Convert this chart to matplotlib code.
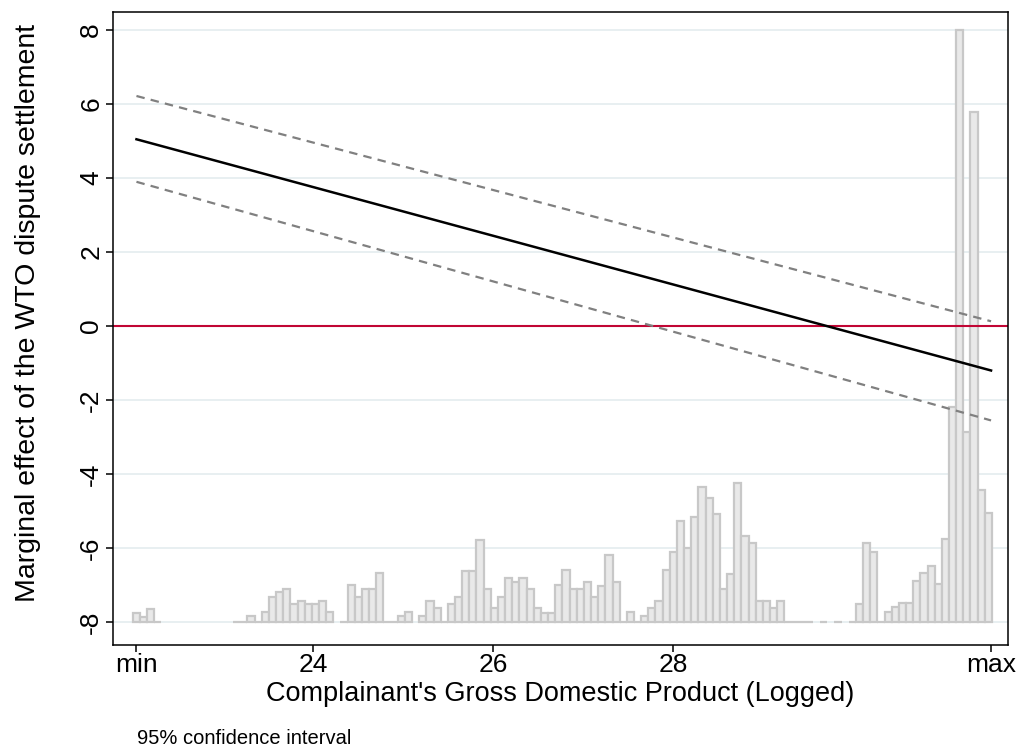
import numpy as np
import matplotlib.pyplot as plt

plt.rcParams['font.family'] = ['Liberation Sans', 'DejaVu Sans']

# range of the moderator (complainant GDP, logged)
x_min, x_max = 22.04, 31.53
line_x = [x_min, x_max]
effect = [5.05, -1.20]
ci_upper = [6.22, 0.13]
ci_lower = [3.90, -2.55]

# histogram of the moderator, drawn on the -8 baseline
hist_start = 22.0
hist_width = 0.0795
nan = np.nan
hist_heights = [
    0.24, 0.14, 0.35, 0.0,
    nan, nan, nan, nan, nan, nan, nan, nan, nan, nan,
    0.0, 0.0, 0.16, 0.0, 0.27, 0.68, 0.81, 0.89, 0.49, 0.57,
    0.49, 0.49, 0.57, 0.27, nan, 0.0, 1.00, 0.68, 0.89, 0.89,
    1.32, 0.0, 0.0, 0.16, 0.27, nan, 0.16, 0.57, 0.38, 0.0,
    0.49, 0.68, 1.38, 1.38, 2.22, 0.89, 0.38, 0.68, 1.19, 1.08,
    1.19, 0.89, 0.38, 0.24, 0.24, 1.00, 1.41, 0.89, 0.89, 1.08,
    0.68, 0.97, 1.81, 1.08, 0.0, 0.27, 0.0, 0.16, 0.38, 0.57,
    1.41, 1.89, 2.73, 2.00, 2.84, 3.65, 3.35, 2.92, 0.89, 1.30,
    3.76, 2.32, 2.14, 0.57, 0.57, 0.38, 0.57, 0.0, 0.0, 0.0,
    0.0, nan, 0.0, nan, 0.0, nan, 0.0, 0.49, 2.14, 1.89,
    0.0, 0.27, 0.41, 0.51, 0.51, 1.11, 1.32, 1.51, 1.03, 2.24,
    5.81, 16.0, 5.14, 13.78, 3.57, 2.95,
]
hist_base = -8

x_ticks = [x_min, 24, 26, 28, x_max]
x_labels = ['min', '24', '26', '28', 'max']
y_ticks = [-8, -6, -4, -2, 0, 2, 4, 6, 8]

fig = plt.figure(figsize=(10.23, 7.5), dpi=100)
ax = fig.add_axes([0.1105, 0.14, 0.875, 0.844])

for yv in y_ticks:
    ax.axhline(yv, color='#e6eef0', lw=1.3, zorder=0)

edges = hist_start + hist_width * np.arange(len(hist_heights))
ax.bar(edges, hist_heights, width=hist_width, bottom=hist_base, align='edge',
       facecolor='#e9e9e9', edgecolor='#c8c8c8', linewidth=1.6, zorder=1)

ax.axhline(0, color='#c10534', lw=1.5, zorder=2)
ax.plot(line_x, ci_upper, color='#808080', lw=1.6, ls=(0, (3.8, 2.8)), zorder=3)
ax.plot(line_x, ci_lower, color='#808080', lw=1.6, ls=(0, (3.8, 2.8)), zorder=3)
ax.plot(line_x, effect, color='black', lw=1.8, zorder=4)

ax.set_xlim(21.78, 31.72)
ax.set_ylim(-8.62, 8.49)
ax.set_xticks(x_ticks)
ax.set_xticklabels(x_labels)
ax.set_yticks(y_ticks)
ax.set_yticklabels([str(v) for v in y_ticks], rotation=90, va='center')
ax.tick_params(axis='both', labelsize=19, length=5, width=1.1, color='black')
ax.tick_params(axis='x', pad=0.5)
ax.tick_params(axis='y', pad=2)
for sp in ax.spines.values():
    sp.set_linewidth(1.1)

ax.set_xlabel("Complainant's Gross Domestic Product (Logged)", fontsize=19.5, va='center')
ax.xaxis.set_label_coords(0.5, -0.077)
ax.set_ylabel('Marginal effect of the WTO dispute settlement', fontsize=20.5, va='center')
ax.yaxis.set_label_coords(-0.095, 0.524)

fig.text(137 / 1023, 1 - 738 / 750, '95% confidence interval', fontsize=14.5, va='center')

fig.savefig('out.png', dpi=100)
